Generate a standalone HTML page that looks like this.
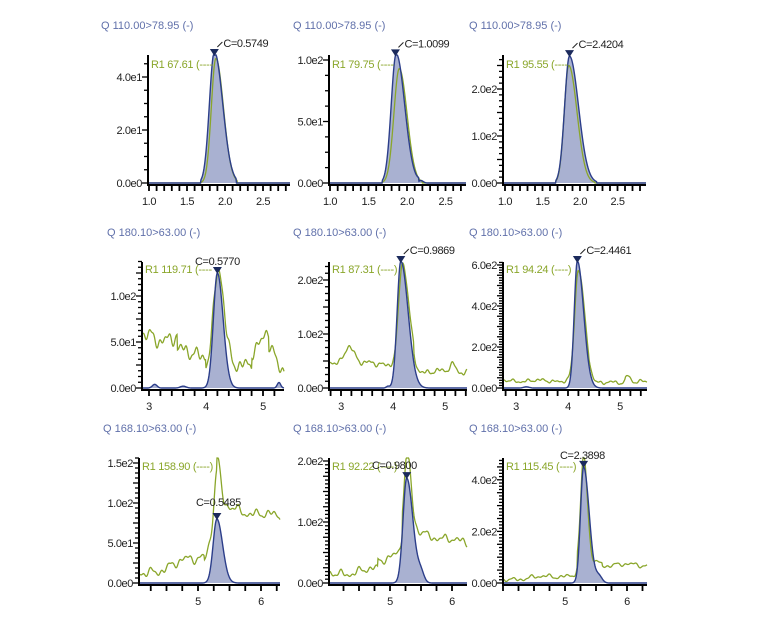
<!DOCTYPE html>
<html><head><meta charset="utf-8"><style>
html,body{margin:0;padding:0;background:#fff;}
svg{display:block;}
text{font-family:"Liberation Sans",sans-serif;}
</style></head><body>
<svg id="s" width="757" height="619" viewBox="0 0 757 619" xmlns="http://www.w3.org/2000/svg"></svg>
<script>
const S=document.getElementById('s');let h='';
function nz(x,seed){return Math.sin(x*23+seed)*0.5+Math.sin(x*41+seed*2.3)*0.3+Math.sin(x*67+seed*1.7)*0.25+Math.sin(x*9+seed*0.7)*0.4;}
function pk(x,c,a,s1,s2){const s=x<c?s1:s2;const d=(x-c)/s;return a*Math.exp(-d*d/2);}
function panel(o){
 const X=v=>o.xr+(v-o.xv)*o.xs, Y=v=>o.yb-v*o.ys;
 h+=`<text x="${o.tx}" y="${o.ty}" font-size="11" fill="#6070aa">${o.title}</text>`;
 let gp='',bp='',bf=`M${o.ax0+1},${o.yb}`;
 for(let px=o.ax0+1;px<=o.ax1;px+=0.5){const x=o.xv+(px-o.xr)/o.xs;
  let g=Math.max(0,o.green(x)),b=Math.max(0,o.blue(x));
  let gy=Math.max(o.ytop,Y(g)),by=Math.max(o.ytop,Y(b));
  gp+=(gp?'L':'M')+px.toFixed(1)+','+gy.toFixed(1);bp+=(bp?'L':'M')+px.toFixed(1)+','+by.toFixed(1);bf+='L'+px.toFixed(1)+','+by.toFixed(1);}
 bf+=`L${o.ax1},${o.yb}Z`;
 h+=`<path d="${bf}" fill="#a9b1d1"/>`;
 h+=`<path d="${gp}" fill="none" stroke="#8aa62a" stroke-width="1.3"/>`;
 h+=`<path d="${bp}" fill="none" stroke="#2c3e8a" stroke-width="1.4"/>`;
 h+=`<line x1="${o.ax0}" y1="${o.ytop}" x2="${o.ax0}" y2="${o.yb+3}" stroke="#000" stroke-width="2"/>`;
 h+=`<line x1="${o.ax0}" y1="${o.yb+2}" x2="${o.ax1}" y2="${o.yb+2}" stroke="#000" stroke-width="2"/>`;
 for(let v=0;Y(v)>=o.ytop-0.5;v+=o.ymaj/4){const maj=Math.abs(v/o.ymaj-Math.round(v/o.ymaj))<1e-6;
  h+=`<line x1="${o.ax0-(maj?6:4)}" y1="${Y(v)}" x2="${o.ax0}" y2="${Y(v)}" stroke="#000" stroke-width="1.3"/>`;}
 o.yl.forEach(([v,t])=>{h+=`<text x="${o.ax0-6}" y="${Y(v)+4}" font-size="11" fill="#222" text-anchor="end" letter-spacing="-0.4">${t}</text>`;});
 const xmin=o.xv+(o.ax0-o.xr)/o.xs,xmax=o.xv+(o.ax1-o.xr)/o.xs;
 for(let k=Math.ceil(xmin/o.xt-1e-6);k*o.xt<=xmax;k++){const px=X(k*o.xt);h+=`<line x1="${px}" y1="${o.yb+2}" x2="${px}" y2="${o.yb+8}" stroke="#000" stroke-width="1.8"/>`;}
 o.xl.forEach(v=>{h+=`<text x="${X(v)}" y="${o.yb+22}" font-size="11" fill="#222" text-anchor="middle" letter-spacing="-0.4">${v.toFixed(o.xd)}</text>`;});
 const mx=X(o.pc),my=Math.max(o.ytop,Y(o.blue(o.pc)));
 h+=`<path d="M${mx-4.5},${my-6}L${mx+4.5},${my-6}L${mx},${my+1}Z" fill="#1b2a5c"/>`;
 h+=`<text x="${o.ax0+3}" y="${o.ry}" font-size="11" fill="#8aa62a" letter-spacing="-0.3">${o.r}</text>`;
 if(o.slash)h+=`<line x1="${mx+3}" y1="${my-8}" x2="${mx+8}" y2="${my-13}" stroke="#222" stroke-width="1"/>`;
 h+=`<text x="${o.cx!=null?o.cx:mx+9}" y="${o.cy!=null?o.cy:my-8}" font-size="11" fill="#222" letter-spacing="-0.4">${o.c}</text>`;
}
const r1blue=a=>x=>pk(x,1.86,a,0.065,0.11)*(x>1.68&&x<2.15?1:0);
panel({ax0:148,ax1:290,yb:183,ytop:55,xv:1.0,xr:149,xs:76,xt:0.1,xl:[1.0,1.5,2.0,2.5],xd:1,ys:53/20,ymaj:20,yl:[[0,'0.0e0'],[20,'2.0e1'],[40,'4.0e1']],
 title:'Q 110.00&gt;78.95 (-)',tx:101,ty:29,pc:1.86,blue:r1blue(49.5),green:x=>pk(x,1.88,47,0.06,0.1)*(x>1.68&&x<2.16?1:0),c:'C=0.5749',slash:1,r:'R1 67.61 (----',ry:68});
panel({ax0:329,ax1:466,yb:183,ytop:55,xv:1.0,xr:330,xs:77,xt:0.1,xl:[1.0,1.5,2.0,2.5],xd:1,ys:123/100,ymaj:50,yl:[[0,'0.0e0'],[50,'5.0e1'],[100,'1.0e2']],
 title:'Q 110.00&gt;78.95 (-)',tx:293,ty:29,pc:1.85,blue:x=>r1blue(105)(x)+pk(x,2.18,2,0.03,0.03),green:x=>pk(x,1.9,93,0.07,0.1)*(x>1.68&&x<2.2?1:0),c:'C=1.0099',slash:1,r:'R1 79.75 (----',ry:68});
panel({ax0:503,ax1:646,yb:183,ytop:55,xv:1.0,xr:505,xs:75,xt:0.1,xl:[1.0,1.5,2.0,2.5],xd:1,ys:47/100,ymaj:50,yl:[[0,'0.0e0'],[100,'1.0e2'],[200,'2.0e2']],
 title:'Q 110.00&gt;78.95 (-)',tx:469,ty:29,pc:1.86,blue:x=>pk(x,1.86,270,0.065,0.12)*(x>1.68&&x<2.22?1:0),green:x=>pk(x,1.85,250,0.06,0.11)*(x>1.68&&x<2.2?1:0),c:'C=2.4204',slash:1,r:'R1 95.55 (----',ry:68});
panel({ax0:142,ax1:284,yb:388,ytop:262,xv:4,xr:206,xs:57,xt:0.2,xl:[3,4,5],xd:0,ys:46/50,ymaj:25,yl:[[0,'0.0e0'],[50,'5.0e1'],[100,'1.0e2']],
 title:'Q 180.10&gt;63.00 (-)',tx:107,ty:236,pc:4.2,blue:x=>pk(x,4.2,125,0.07,0.1)+pk(x,3.1,4,0.04,0.04)+pk(x,5.28,6,0.03,0.03)+pk(x,3.6,2,0.05,0.05),
 green:x=>{const b=x<3.5?55:(x<4.0?38:(x<4.8?28:(x<5.1?40:25)));return b+10*nz(x,1)+pk(x,4.22,100,0.08,0.09)+pk(x,5.1,22,0.08,0.08);},c:'C=0.5770',cx:195,cy:265,r:'R1 119.71 (----',ry:273});
panel({ax0:329,ax1:467,yb:388,ytop:262,xv:4,xr:393,xs:52,xt:0.2,xl:[3,4,5],xd:0,ys:54/100,ymaj:50,yl:[[0,'0.0e0'],[100,'1.0e2'],[200,'2.0e2']],
 title:'Q 180.10&gt;63.00 (-)',tx:293,ty:236,pc:4.15,blue:x=>pk(x,4.15,235,0.07,0.14)+pk(x,3.9,3,0.03,0.03),
 green:x=>{const b=x<4.4?45:30;return b+6*nz(x,2)+pk(x,3.15,35,0.08,0.1)+pk(x,4.18,185,0.07,0.12)+pk(x,5.15,15,0.06,0.06);},c:'C=0.9869',slash:1,r:'R1 87.31 (----)',ry:273});
panel({ax0:503,ax1:647,yb:388,ytop:262,xv:4,xr:568,xs:52,xt:0.2,xl:[3,4,5],xd:0,ys:20.5/100,ymaj:50,yl:[[0,'0.0e0'],[200,'2.0e2'],[400,'4.0e2'],[600,'6.0e2']],
 title:'Q 180.10&gt;63.00 (-)',tx:469,ty:236,pc:4.18,blue:x=>pk(x,4.18,620,0.06,0.12)+pk(x,3.2,6,0.05,0.05),
 green:x=>{const b=x<4.4?35:(x<5.1?25:30);return b+10*nz(x,3)+pk(x,4.2,540,0.07,0.12)+pk(x,5.15,35,0.04,0.05);},c:'C=2.4461',slash:1,r:'R1 94.24 (----)',ry:273});
panel({ax0:139,ax1:280,yb:583,ytop:458,xv:5,xr:198,xs:63,xt:0.25,xl:[5,6],xd:0,ys:40/50,ymaj:25,yl:[[0,'0.0e0'],[50,'5.0e1'],[100,'1.0e2'],[150,'1.5e2']],
 title:'Q 168.10&gt;63.00 (-)',tx:103,ty:432,pc:5.3,blue:x=>pk(x,5.3,80,0.06,0.09),
 green:x=>{const b=x<5.1?10+(x-4.1)*25:(x<5.3?30+(x-5.1)*250:95-(x-5.4)*15);return Math.max(5,b)+7*nz(x,4)+pk(x,5.3,62,0.045,0.05);},c:'C=0.5485',cx:196,cy:506,r:'R1 158.90 (----)',ry:470});
panel({ax0:329,ax1:467,yb:583,ytop:458,xv:5,xr:390,xs:62,xt:0.25,xl:[5,6],xd:0,ys:61/100,ymaj:25,yl:[[0,'0.0e0'],[100,'1.0e2'],[200,'2.0e2']],
 title:'Q 168.10&gt;63.00 (-)',tx:293,ty:432,pc:5.27,blue:x=>pk(x,5.27,172,0.06,0.1)+pk(x,5.5,15,0.05,0.05),
 green:x=>{const b=x<4.8?15+(x-4.1)*10:(x<5.2?35+(x-4.8)*50:80-(x-5.6)*25);return Math.max(5,b)+8*nz(x,5)+pk(x,5.28,120,0.05,0.06);},c:'C=0.9800',cx:372,cy:469,r:'R1 92.22 (----)',ry:470});
panel({ax0:503,ax1:647,yb:583,ytop:458,xv:5,xr:565,xs:62,xt:0.25,xl:[5,6],xd:0,ys:25.8/100,ymaj:50,yl:[[0,'0.0e0'],[200,'2.0e2'],[400,'4.0e2']],
 title:'Q 168.10&gt;63.00 (-)',tx:469,ty:432,pc:5.3,blue:x=>pk(x,5.3,450,0.05,0.09)+pk(x,5.55,25,0.05,0.05),
 green:x=>{const b=x<5.2?15+(x-4.1)*15:(x<5.6?80:70);return Math.max(5,b)+10*nz(x,6)+pk(x,5.3,410,0.045,0.06);},c:'C=2.3898',cx:560,cy:459,r:'R1 115.45 (----)',ry:470});
S.innerHTML=h;
</script>
</body></html>
